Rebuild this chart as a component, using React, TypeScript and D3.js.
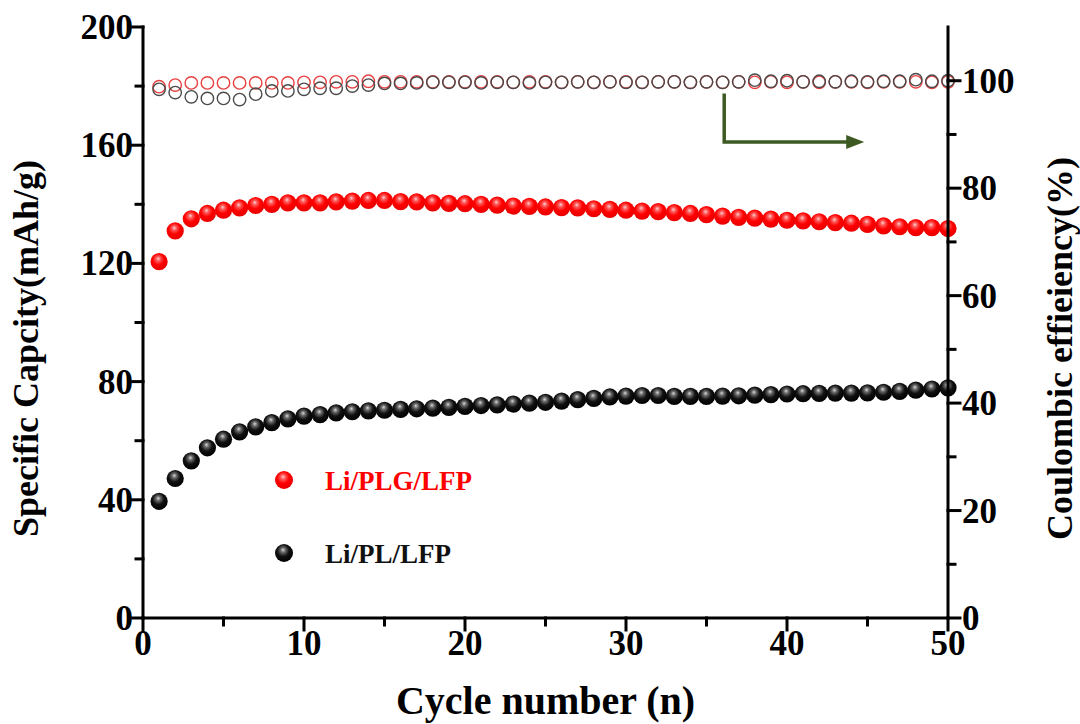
import React from "react";
import * as d3 from "d3";

// ---- data ----
const cycles: number[] = Array.from({ length: 50 }, (_, i) => i + 1);

const capPLG: number[] = [
  120.6, 131.0, 135.1, 136.9, 138.0, 138.8, 139.6, 140.0, 140.5, 140.5,
  140.5, 140.8, 141.1, 141.3, 141.3, 140.9, 140.8, 140.5, 140.3, 140.2,
  140.0, 139.7, 139.4, 139.3, 139.1, 138.9, 138.8, 138.5, 138.3, 138.0,
  137.7, 137.5, 137.2, 136.9, 136.5, 136.0, 135.6, 135.3, 135.0, 134.6,
  134.4, 134.1, 133.8, 133.6, 133.2, 132.7, 132.4, 132.1, 132.1, 131.8,
];

const capPL: number[] = [
  39.5, 47.2, 53.2, 57.6, 60.5, 63.0, 64.7, 66.1, 67.4, 68.3,
  68.8, 69.4, 69.8, 70.1, 70.3, 70.6, 70.8, 71.0, 71.3, 71.6,
  71.9, 72.1, 72.4, 72.7, 73.0, 73.4, 73.9, 74.3, 74.8, 75.1,
  75.3, 75.3, 75.0, 75.0, 75.0, 75.1, 75.2, 75.4, 75.6, 75.8,
  75.9, 76.0, 76.1, 76.1, 76.2, 76.4, 76.7, 77.1, 77.5, 77.9,
];

const cePLG: number[] = [
  98.9, 99.2, 99.6, 99.6, 99.6, 99.6, 99.6, 99.6, 99.6, 99.7,
  99.7, 99.8, 99.8, 99.9, 99.8, 99.8, 99.8, 99.8, 99.8, 99.8,
  99.8, 99.8, 99.7, 99.8, 99.8, 99.7, 99.8, 99.7, 99.8, 99.8,
  99.7, 99.8, 99.8, 99.7, 99.8, 99.7, 99.8, 99.7, 99.8, 99.7,
  99.8, 99.7, 99.8, 99.8, 99.7, 99.8, 99.8, 99.8, 99.7, 99.8,
];

const cePL: number[] = [
  98.4, 97.8, 97.0, 96.7, 96.7, 96.5, 97.5, 98.1, 98.1, 98.4,
  98.6, 98.6, 99.0, 99.2, 99.5, 99.5, 99.6, 99.7, 99.7, 99.7,
  99.6, 99.7, 99.7, 99.6, 99.7, 99.7, 99.8, 99.7, 99.8, 99.7,
  99.7, 99.8, 99.8, 99.7, 99.8, 99.7, 99.8, 100.1, 99.9, 100.0,
  99.8, 99.9, 99.8, 99.9, 99.8, 99.9, 99.9, 100.2, 99.9, 100.0,
];

const xTicks: number[] = [0, 10, 20, 30, 40, 50];
const xMinor: number[] = [5, 15, 25, 35, 45];
const yLeftTicks: number[] = [0, 40, 80, 120, 160, 200];
const yLeftMinor: number[] = [20, 60, 100, 140, 180];
const yRightTicks: number[] = [0, 20, 40, 60, 80, 100];
const yRightMinor: number[] = [10, 30, 50, 70, 90];

// arrow annotation in data space: [cycle, efficiency]
const arrowPath: [number, number][] = [
  [36.1, 97.6],
  [36.1, 88.6],
  [43.8, 88.6],
];

const legendItems = [
  { label: "Li/PLG/LFP", grad: "gradRed", color: "#ff0000", cap: 480 },
  { label: "Li/PL/LFP", grad: "gradBlack", color: "#111111", cap: 553 },
];

const W = 1080;
const H = 724;
const L = 143;
const R = 948;
const T = 27;
const B = 618;
const FONT = "Liberation Serif, Tinos, DejaVu Serif, Times New Roman, serif";

export default function App() {
  const x = d3.scaleLinear().domain([0, 50]).range([L, R]);
  const yL = d3.scaleLinear().domain([0, 200]).range([B, T]);
  const yR = d3.scaleLinear().domain([0, 110]).range([B, T]);

  const arrowLine = d3
    .line<[number, number]>()
    .x((d) => x(d[0]))
    .y((d) => yR(d[1]));
  const tip = arrowPath[arrowPath.length - 1];
  const tipX = x(tip[0]);
  const tipY = yR(tip[1]);

  const ballR = 8.6;
  const ringR = 6.2;
  const axisW = 3;
  const tf = { fontFamily: FONT, fontWeight: 700 } as React.CSSProperties;

  return (
    <svg
      width={W}
      height={H}
      style={{ position: "absolute", left: 0, top: 0, background: "#fff", fontFamily: FONT }}
    >
      <defs>
        <radialGradient id="gradRed" cx="0.45" cy="0.4" r="0.6" fx="0.45" fy="0.32">
          <stop offset="0%" stopColor="#ffd0d0" />
          <stop offset="22%" stopColor="#ff5a5a" />
          <stop offset="55%" stopColor="#ff0000" />
          <stop offset="100%" stopColor="#e80000" />
        </radialGradient>
        <radialGradient id="gradBlack" cx="0.45" cy="0.4" r="0.6" fx="0.45" fy="0.32">
          <stop offset="0%" stopColor="#d8d8d8" />
          <stop offset="22%" stopColor="#6a6a6a" />
          <stop offset="55%" stopColor="#111111" />
          <stop offset="100%" stopColor="#000000" />
        </radialGradient>
      </defs>

      {/* hollow coulombic efficiency markers */}
      <g fill="none" strokeWidth={1.4}>
        {cePLG.map((v, i) => (
          <circle key={"cr" + i} cx={x(cycles[i])} cy={yR(v)} r={ringR} stroke="#e84040" />
        ))}
        {cePL.map((v, i) => (
          <circle key={"cb" + i} cx={x(cycles[i])} cy={yR(v)} r={ringR} stroke="#4a4a4a" />
        ))}
      </g>

      {/* filled capacity markers */}
      <g>
        {capPLG.map((v, i) => (
          <circle key={"r" + i} cx={x(cycles[i])} cy={yL(v)} r={ballR} fill="url(#gradRed)" />
        ))}
        {capPL.map((v, i) => (
          <circle key={"b" + i} cx={x(cycles[i])} cy={yL(v)} r={ballR} fill="url(#gradBlack)" />
        ))}
      </g>

      {/* arrow */}
      <path d={arrowLine(arrowPath) || ""} fill="none" stroke="#3d5a22" strokeWidth={3.5} />
      <path
        d={`M${tipX + 16},${tipY} L${tipX - 2},${tipY - 7} L${tipX - 2},${tipY + 7} Z`}
        fill="#3d5a22"
      />

      {/* axes */}
      <g stroke="#000" strokeWidth={axisW} strokeLinecap="square">
        <line x1={L} y1={T} x2={L} y2={B} />
        <line x1={R} y1={T} x2={R} y2={B} />
        <line x1={L} y1={B} x2={R} y2={B} />
        {xTicks.map((t) => (
          <line key={"xt" + t} x1={x(t)} y1={B} x2={x(t)} y2={B + 12} />
        ))}
        {xMinor.map((t) => (
          <line key={"xm" + t} x1={x(t)} y1={B} x2={x(t)} y2={B + 7} />
        ))}
        {yLeftTicks.map((t) => (
          <line key={"lt" + t} x1={L - 12} y1={yL(t)} x2={L} y2={yL(t)} />
        ))}
        {yLeftMinor.map((t) => (
          <line key={"lm" + t} x1={L - 7} y1={yL(t)} x2={L} y2={yL(t)} />
        ))}
        {yRightTicks.map((t) => (
          <line key={"rt" + t} x1={R} y1={yR(t)} x2={R + 12} y2={yR(t)} />
        ))}
        {yRightMinor.map((t) => (
          <line key={"rm" + t} x1={R} y1={yR(t)} x2={R + 7} y2={yR(t)} />
        ))}
      </g>

      {/* tick labels */}
      <g fontSize={35} fill="#000">
        {xTicks.map((t) => (
          <text key={"xl" + t} style={tf} x={x(t)} y={B + 37} textAnchor="middle">
            {t}
          </text>
        ))}
        {yLeftTicks.map((t) => (
          <text key={"ll" + t} style={tf} x={L - 10} y={yL(t) + 12} textAnchor="end">
            {t}
          </text>
        ))}
        {yRightTicks.map((t) => (
          <text key={"rl" + t} style={tf} x={R + 14} y={yR(t) + 12} textAnchor="start">
            {t}
          </text>
        ))}
      </g>

      {/* axis titles */}
      <text style={tf} x={(L + R) / 2} y={714} textAnchor="middle" fontSize={40}>
        Cycle number (n)
      </text>
      <text
        style={tf}
        transform={`translate(38,${(T + B) / 2 + 26}) rotate(-90)`}
        textAnchor="middle"
        fontSize={36}
      >
        Specific Capcity(mAh/g)
      </text>
      <text
        style={tf}
        transform={`translate(1072,${(T + B) / 2 + 26}) rotate(-90)`}
        textAnchor="middle"
        fontSize={36}
      >
        Coulombic effieiency(%)
      </text>

      {/* legend */}
      {legendItems.map((it) => (
        <g key={it.label}>
          <circle cx={284} cy={it.cap} r={9} fill={`url(#${it.grad})`} />
          <text style={tf} x={325} y={it.cap + 10} fontSize={27} fill={it.color}>
            {it.label}
          </text>
        </g>
      ))}
    </svg>
  );
}
